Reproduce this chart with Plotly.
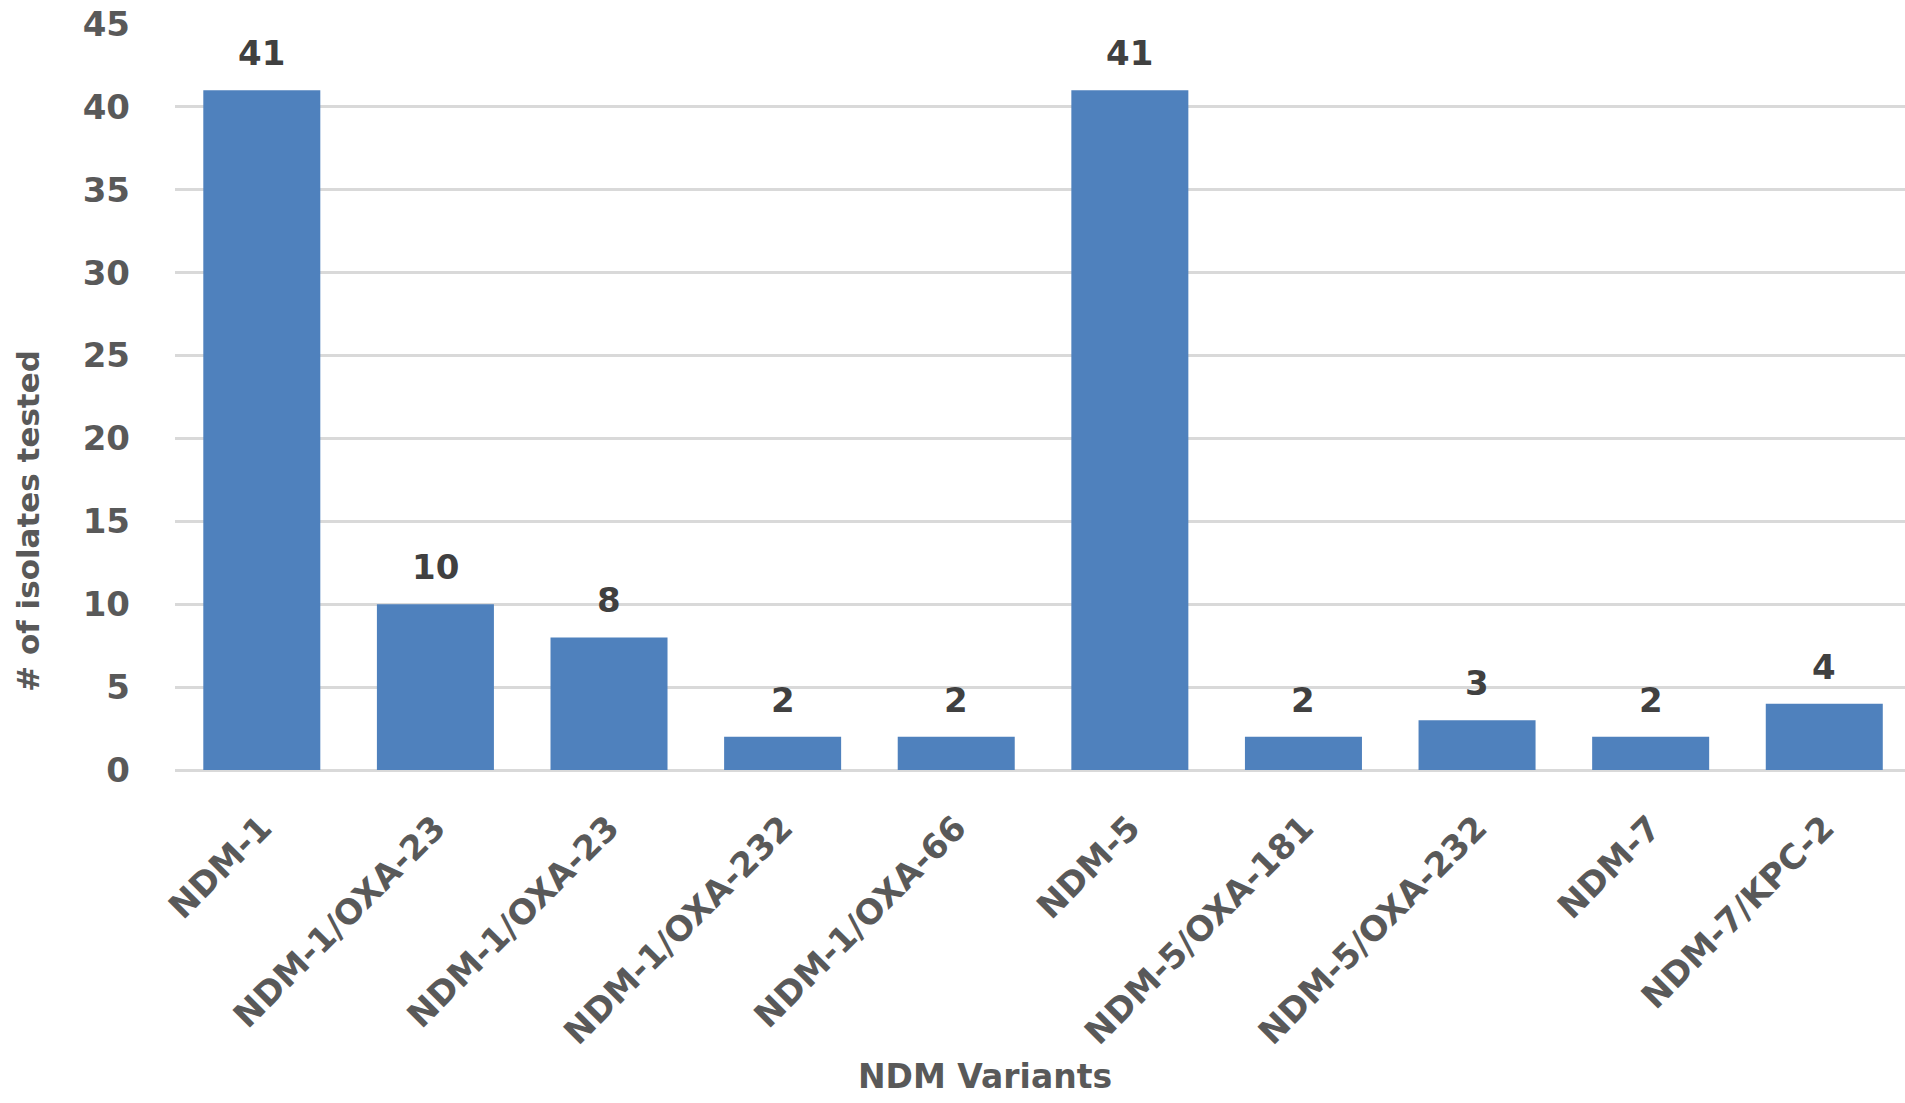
import plotly.graph_objects as go

# NDM variant counts
variants = ["NDM-1", "NDM-1/OXA-23", "NDM-1/OXA-23", "NDM-1/OXA-232", "NDM-1/OXA-66",
            "NDM-5", "NDM-5/OXA-181", "NDM-5/OXA-232", "NDM-7", "NDM-7/KPC-2"]
isolates = [41, 10, 8, 2, 2, 41, 2, 3, 2, 4]
y_ticks = [0, 5, 10, 15, 20, 25, 30, 35, 40, 45]

positions = list(range(len(variants)))
FONT = "DejaVu Sans"
TICK_GREY = "#595959"
LABEL_DARK = "#404040"
GRID = "#d9d9d9"

fig = go.Figure(
    go.Bar(
        x=positions,
        y=isolates,
        marker=dict(color="#4f81bd", line=dict(width=0)),
        hoverinfo="skip",
    )
)

# value labels above each bar
for xi, v in zip(positions, isolates):
    fig.add_annotation(
        x=xi, y=v, text=f"<b>{v}</b>", showarrow=False,
        yanchor="bottom", yshift=15,
        font=dict(family=FONT, size=34, color=LABEL_DARK),
    )

# axis titles placed as free annotations
fig.add_annotation(
    xref="paper", yref="paper", x=0.468, y=-0.411,
    text="<b>NDM Variants</b>", showarrow=False,
    xanchor="center", yanchor="middle",
    font=dict(family=FONT, size=33, color=TICK_GREY),
)
fig.add_annotation(
    xref="paper", yref="paper", x=-0.085, y=0.334,
    text="<b># of isolates tested</b>", showarrow=False, textangle=-90,
    xanchor="center", yanchor="middle",
    font=dict(family=FONT, size=31, color=TICK_GREY),
)

fig.update_layout(
    width=1905, height=1103,
    margin=dict(l=175, r=0, t=24, b=333),
    plot_bgcolor="white", paper_bgcolor="white",
    bargap=0.326,
    showlegend=False,
    font=dict(family=FONT, color=TICK_GREY),
)

fig.update_xaxes(
    range=[-0.5, len(variants) - 0.535],
    tickmode="array", tickvals=positions,
    ticktext=[f"<b>{t}</b>" for t in variants],
    tickangle=-45,
    tickfont=dict(family=FONT, size=34, color=TICK_GREY),
    ticklabelstandoff=30,
    showgrid=False, zeroline=False,
    showline=False,
)

fig.update_yaxes(
    range=[0, 45],
    tickmode="array", tickvals=y_ticks,
    ticktext=[f"<b>{t}</b>" for t in y_ticks],
    tickfont=dict(family=FONT, size=34, color=TICK_GREY),
    ticklabelstandoff=44,
    showgrid=True, gridcolor=GRID, gridwidth=3,
    zeroline=True, zerolinecolor=GRID, zerolinewidth=3,
)

fig.write_html("out.html")
